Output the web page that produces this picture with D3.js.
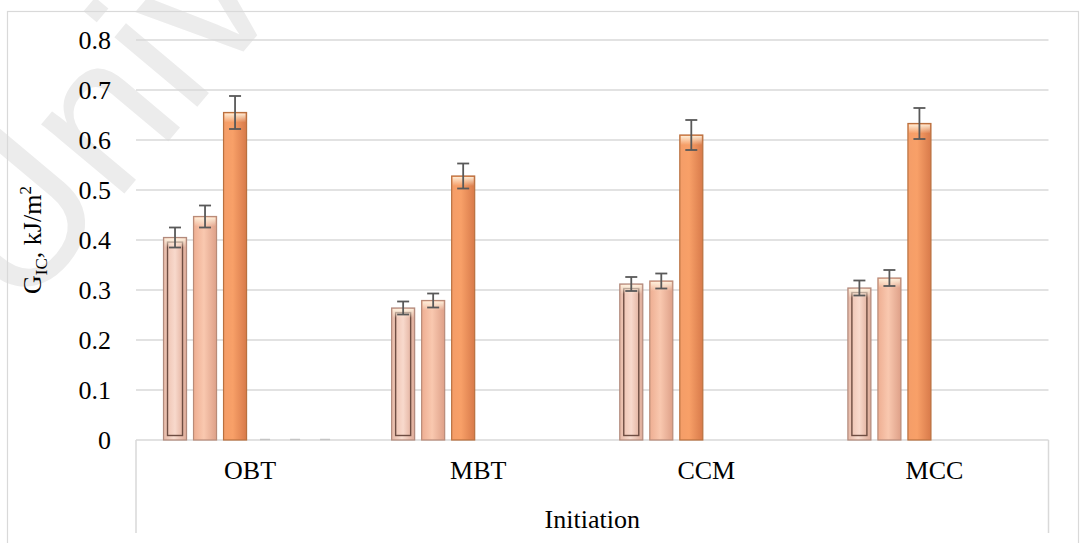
<!DOCTYPE html>
<html>
  <head>
    <meta charset="utf-8" />
    <title>GIC by initiation</title>
    <script src="https://d3js.org/d3.v7.min.js"></script>
    <style>
      body {
        margin: 0;
        background: #ffffff;
      }
      text {
        font-family: "Liberation Serif", "Times New Roman", serif;
        fill: #000000;
      }
    </style>
  </head>
  <body>
    <svg id="chart"></svg>

    <script>
      // data
      var categories = ["OBT", "MBT", "CCM", "MCC"];
      var seriesKeys = ["s1", "s2", "s3", "s4", "s5", "s6"];
      var s1Values = [0.405, 0.264, 0.312, 0.304];
      var s2Values = [0.447, 0.279, 0.318, 0.324];
      var s3Values = [0.655, 0.528, 0.610, 0.633];
      var s4Values = [0, null, null, null];
      var s5Values = [0, null, null, null];
      var s6Values = [0, null, null, null];
      var s1Errors = [0.020, 0.013, 0.014, 0.015];
      var s2Errors = [0.022, 0.014, 0.015, 0.016];
      var s3Errors = [0.033, 0.025, 0.030, 0.031];
      var yTicks = [0, 0.1, 0.2, 0.3, 0.4, 0.5, 0.6, 0.7, 0.8];
      var xTitle = "Initiation";

      var valuesBySeries = [s1Values, s2Values, s3Values, s4Values, s5Values, s6Values];
      var errorsBySeries = [s1Errors, s2Errors, s3Errors, null, null, null];

      var width = 1080;
      var height = 543;
      var margin = { top: 40, right: 31, bottom: 103, left: 136 };
      var fontSize = "26px";

      var svg = d3.select("#chart")
        .attr("width", width)
        .attr("height", height);

      var defs = svg.append("defs");

      function hGradient(id, stops) {
        var g = defs.append("linearGradient")
          .attr("id", id)
          .attr("x1", "0%").attr("x2", "100%")
          .attr("y1", "0%").attr("y2", "0%");
        g.selectAll("stop")
          .data(stops)
          .enter().append("stop")
          .attr("offset", function(d) { return d[0]; })
          .attr("stop-color", function(d) { return d[1]; });
      }

      hGradient("g1", [["0%", "#e6b8a6"], ["45%", "#f9ddd0"], ["100%", "#deab98"]]);
      hGradient("g1in", [["0%", "#efc6b6"], ["50%", "#f8d9cc"], ["100%", "#e5b6a4"]]);
      hGradient("g2", [["0%", "#eeae92"], ["45%", "#f9c8af"], ["100%", "#dea088"]]);
      hGradient("g3", [["0%", "#f49d68"], ["40%", "#f8a068"], ["100%", "#d87a4a"]]);

      var cap = defs.append("linearGradient")
        .attr("id", "cap")
        .attr("x1", "0%").attr("x2", "0%")
        .attr("y1", "0%").attr("y2", "100%");
      cap.append("stop").attr("offset", "0%").attr("stop-color", "#fff4e0").attr("stop-opacity", 0.9);
      cap.append("stop").attr("offset", "100%").attr("stop-color", "#fff4e0").attr("stop-opacity", 0);

      // faint watermark
      svg.append("text")
        .attr("transform", "translate(20, 318) rotate(-50)")
        .style("font-family", "'Liberation Sans', Arial, sans-serif")
        .style("font-size", "205px")
        .style("fill", "#ececec")
        .text("Univ");

      // outer chart frame
      svg.append("rect")
        .attr("x", 7.5)
        .attr("y", 11.5)
        .attr("width", 1071)
        .attr("height", 560)
        .attr("fill", "none")
        .attr("stroke", "#d9d9d9")
        .attr("stroke-width", 1.2);

      var plotLeft = margin.left;
      var plotRight = width - margin.right - 0.5;
      var plotBottom = height - margin.bottom;

      var y = d3.scaleLinear()
        .domain([0, 0.8])
        .range([plotBottom, margin.top]);

      var x0 = d3.scaleBand()
        .domain(categories)
        .range([plotLeft, plotRight])
        .paddingInner(0)
        .paddingOuter(0);

      var x1 = d3.scaleBand()
        .domain(seriesKeys)
        .range([0, x0.bandwidth()])
        .paddingInner(0.2)
        .paddingOuter(0.9);

      // gridlines
      svg.append("g")
        .selectAll("line")
        .data(yTicks.filter(function(d) { return d > 0; }))
        .enter().append("line")
        .attr("x1", plotLeft)
        .attr("x2", plotRight)
        .attr("y1", function(d) { return y(d); })
        .attr("y2", function(d) { return y(d); })
        .attr("stroke", "#d9d9d9")
        .attr("stroke-width", 1.5);

      // y tick labels
      var yAxis = d3.axisLeft(y)
        .tickValues(yTicks)
        .tickSize(0)
        .tickPadding(25)
        .tickFormat(function(d) { return d === 0 ? "0" : d3.format(".1f")(d); });

      var yAxisG = svg.append("g")
        .attr("transform", "translate(" + plotLeft + ",0)")
        .call(yAxis);
      yAxisG.select(".domain").remove();
      yAxisG.attr("font-size", null).attr("font-family", null);
      yAxisG.selectAll("text")
        .style("font-family", "'Liberation Serif', 'Times New Roman', serif")
        .style("font-size", fontSize)
        .attr("fill", "#000");

      // category axis box
      var axisG = svg.append("g");
      axisG.append("line")
        .attr("x1", plotLeft).attr("x2", plotRight)
        .attr("y1", y(0)).attr("y2", y(0))
        .attr("stroke", "#d9d9d9").attr("stroke-width", 1.5);
      axisG.selectAll("line.edge")
        .data([plotLeft, plotRight])
        .enter().append("line")
        .attr("class", "edge")
        .attr("x1", function(d) { return d; })
        .attr("x2", function(d) { return d; })
        .attr("y1", y(0))
        .attr("y2", y(0) + 93)
        .attr("stroke", "#d9d9d9").attr("stroke-width", 1.5);

      axisG.selectAll("text.cat")
        .data(categories)
        .enter().append("text")
        .attr("class", "cat")
        .attr("x", function(d) { return x0(d) + x0.bandwidth() / 2; })
        .attr("y", y(0) + 39)
        .attr("text-anchor", "middle")
        .style("font-size", fontSize)
        .text(function(d) { return d; });

      axisG.append("text")
        .attr("x", (plotLeft + plotRight) / 2)
        .attr("y", y(0) + 88)
        .attr("text-anchor", "middle")
        .style("font-size", fontSize)
        .text(xTitle);

      // y title with sub/superscript
      var yTitle = svg.append("text")
        .attr("transform", "translate(41," + ((margin.top + plotBottom) / 2) + ") rotate(-90)")
        .attr("text-anchor", "middle")
        .style("font-size", fontSize);
      yTitle.append("tspan").text("G");
      yTitle.append("tspan").attr("dy", 6).style("font-size", "17px").text("IC");
      yTitle.append("tspan").attr("dy", -6).text(", kJ/m");
      yTitle.append("tspan").attr("dy", -10).style("font-size", "17px").text("2");

      // flatten into bar records
      var bars = [];
      categories.forEach(function(c, ci) {
        seriesKeys.forEach(function(k, si) {
          var v = valuesBySeries[si][ci];
          if (v === null) return;
          bars.push({
            category: c,
            key: k,
            index: si,
            value: v,
            error: errorsBySeries[si] ? errorsBySeries[si][ci] : null
          });
        });
      });

      var bw = x1.bandwidth();
      var barG = svg.append("g");

      var groups = barG.selectAll("g.bar")
        .data(bars)
        .enter().append("g")
        .attr("class", "bar")
        .attr("transform", function(d) {
          return "translate(" + (x0(d.category) + x1(d.key)) + ",0)";
        });

      // zero values show as a short dash on the baseline
      groups.filter(function(d) { return d.value === 0; })
        .append("line")
        .attr("x1", 7).attr("x2", bw - 7)
        .attr("y1", y(0) - 0.5).attr("y2", y(0) - 0.5)
        .attr("stroke", "#c4c4c4")
        .attr("stroke-width", 1.5);

      var real = groups.filter(function(d) { return d.value > 0; });

      real.append("rect")
        .attr("x", 0.5)
        .attr("width", bw - 1)
        .attr("y", function(d) { return y(d.value); })
        .attr("height", function(d) { return y(0) - y(d.value); })
        .attr("fill", function(d) { return "url(#g" + (d.index + 1) + ")"; })
        .attr("stroke", function(d) {
          return ["#b28a7c", "#b98b78", "#b9703f"][d.index];
        })
        .attr("stroke-width", 1.2);

      // inner bevel of first series
      real.filter(function(d) { return d.index === 0; })
        .append("rect")
        .attr("x", 4.5)
        .attr("width", bw - 9)
        .attr("y", function(d) { return y(d.value) + 4.5; })
        .attr("height", function(d) { return y(0) - y(d.value) - 9; })
        .attr("fill", "url(#g1in)")
        .attr("stroke", "#6e4d42")
        .attr("stroke-width", 1.4);

      // light cap on top
      real.append("rect")
        .attr("x", 1.5)
        .attr("width", bw - 3)
        .attr("y", function(d) { return y(d.value) + 1; })
        .attr("height", 9)
        .attr("fill", "url(#cap)");

      // error bars
      var err = real.filter(function(d) { return d.error !== null; });
      err.append("line")
        .attr("x1", bw / 2).attr("x2", bw / 2)
        .attr("y1", function(d) { return y(d.value + d.error); })
        .attr("y2", function(d) { return y(d.value - d.error); })
        .attr("stroke", "#595959")
        .attr("stroke-width", 1.8);
      err.selectAll("line.cap")
        .data(function(d) { return [d.value + d.error, d.value - d.error]; })
        .enter().append("line")
        .attr("class", "cap")
        .attr("x1", bw / 2 - 6).attr("x2", bw / 2 + 6)
        .attr("y1", function(v) { return y(v); })
        .attr("y2", function(v) { return y(v); })
        .attr("stroke", "#595959")
        .attr("stroke-width", 1.8);
    </script>
  </body>
</html>
